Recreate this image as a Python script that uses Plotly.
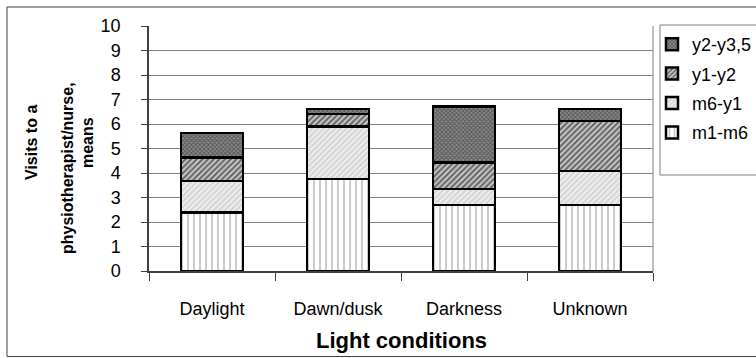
import plotly.graph_objects as go

# Mean visits per light condition, split by follow-up period
categories = ["Daylight", "Dawn/dusk", "Darkness", "Unknown"]
m1_m6 = [2.38, 3.76, 2.69, 2.69]
m6_y1 = [1.29, 2.13, 0.66, 1.40]
y1_y2 = [0.97, 0.52, 1.07, 2.04]
y2_y35 = [1.00, 0.20, 2.29, 0.48]

series = [
    ("m1-m6", m1_m6, 4, dict(shape="|", size=6, solidity=0.35, fgcolor="#9a9a9a", bgcolor="#ffffff")),
    ("m6-y1", m6_y1, 3, dict(shape="/", size=4, solidity=0.45, fgcolor="#b4b4b4", bgcolor="#eeeeee")),
    ("y1-y2", y1_y2, 2, dict(shape="/", size=4, solidity=0.55, fgcolor="#000000", bgcolor="#d2d2d2")),
    ("y2-y3,5", y2_y35, 1, dict(shape="x", size=3, solidity=0.5, fgcolor="#1c1c1c", bgcolor="#8c8c8c")),
]

fig = go.Figure()
for name, vals, rank, pat in series:
    fig.add_trace(go.Bar(
        x=categories, y=vals, name=name, legendgroup=name, legendrank=rank,
        marker=dict(color="#ffffff", pattern=pat, line=dict(color="#000000", width=2.5)),
        width=0.49,
    ))

W, H = 756, 358
L, R, T, B = 149, 103, 26, 87
pw, ph = W - L - R, H - T - B

def px_x(p):
    return (p - L) / pw

def px_y(p):
    return (H - B - p) / ph

font = "Liberation Sans, Arial, sans-serif"

# y-axis title, one rotated line each: (text, x centre px, y centre px)
title_lines = [("Visits to a", 31, 143), ("physiotherapist/nurse,", 67, 168), ("means", 87, 143)]
annotations = [
    dict(text="<b>%s</b>" % txt, xref="paper", yref="paper", x=px_x(cx), y=px_y(cy),
         xanchor="center", yanchor="middle", textangle=-90, showarrow=False,
         font=dict(size=16, family=font))
    for txt, cx, cy in title_lines
]
annotations.append(
    dict(text="<b>Light conditions</b>", xref="paper", yref="paper", x=0.5, y=px_y(340),
         xanchor="center", yanchor="middle", showarrow=False,
         font=dict(size=22, family=font))
)

fig.update_layout(
    width=W, height=H,
    margin=dict(l=L, r=R, t=T, b=B, autoexpand=False),
    barmode="stack",
    paper_bgcolor="#ffffff", plot_bgcolor="#ffffff",
    font=dict(family=font, color="#000000"),
    showlegend=True,
    legend=dict(
        x=px_x(652), y=px_y(26), xanchor="left", yanchor="top",
        traceorder="grouped", tracegroupgap=3,
        font=dict(size=18, family=font), bgcolor="rgba(0,0,0,0)", borderwidth=0,
        itemwidth=30,
    ),
    xaxis=dict(
        showgrid=False, showline=True, linecolor="#404040", linewidth=2,
        ticks="outside", ticklen=8, tickcolor="#404040", tickson="boundaries",
        tickfont=dict(size=18), ticklabelstandoff=20,
    ),
    yaxis=dict(
        range=[0, 10], dtick=1, showgrid=True, gridcolor="#808080", gridwidth=1,
        showline=True, linecolor="#404040", linewidth=1.5,
        ticks="outside", ticklen=6, tickcolor="#404040",
        tickfont=dict(size=18), ticklabelstandoff=17, zeroline=False,
    ),
    shapes=[
        # plot-area frame (right side)
        dict(type="line", xref="paper", yref="paper", x0=1, x1=1, y0=0, y1=1,
             line=dict(color="#808080", width=1)),
        # legend box
        dict(type="rect", xref="paper", yref="paper",
             x0=px_x(660), x1=px_x(770), y0=px_y(175), y1=px_y(25),
             line=dict(color="#808080", width=1)),
        # chart border
        dict(type="rect", xref="paper", yref="paper",
             x0=px_x(7), x1=px_x(770), y0=px_y(356.5), y1=px_y(7),
             line=dict(color="#404040", width=1)),
    ],
    annotations=annotations,
)

fig.write_html("out.html")
